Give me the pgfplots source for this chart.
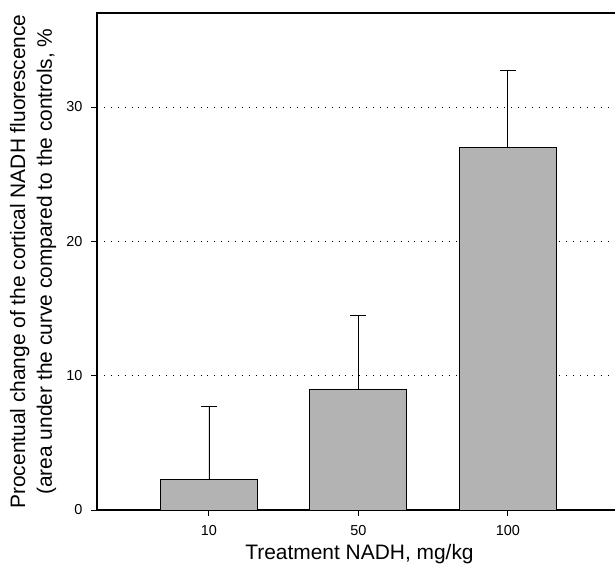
\documentclass[border=0pt]{standalone}
\usepackage{fontspec}
\setmainfont{Liberation Sans}
\usepackage{pgfplots}
\pgfplotsset{compat=1.18}
\definecolor{barcol}{RGB}{179,179,179}
\begin{document}
\begin{tikzpicture}
\path[use as bounding box] (0,0) rectangle (615bp,567bp);
\begin{axis}[
  at={(97bp,57bp)}, anchor=south west,
  scale only axis, width=520bp, height=497bp,
  xmin=0.251, xmax=3.73, ymin=0, ymax=37,
  xtick={1,2,3}, xticklabels={10,50,100},
  ytick={0,10,20,30},
  tick align=outside, xtick pos=bottom, ytick pos=left,
  major tick length=6bp,
  tick style={black, line width=1bp},
  axis line style={line width=1.6bp},
  ymajorgrids,
  grid style={black, line width=0.9bp, dash pattern=on 0.9bp off 6bp},
  tick label style={font=\fontsize{14.5}{16}\selectfont},
  xticklabel style={yshift=-6bp},
  yticklabel style={xshift=-5bp},
  /pgf/number format/assume math mode=true,
  xlabel={Treatment NADH, mg/kg},
  xlabel style={at={(axis description cs:0.5048,-0.1006)}, anchor=base, inner sep=0pt, font=\fontsize{21}{25}\selectfont},
  ylabel={Procentual change of the cortical NADH fluorescence\\(area under the curve compared to the controls, \%},
  ylabel style={at={(axis description cs:-0.1679,0.5)}, anchor=north, inner sep=0pt, align=center, font=\fontsize{21}{27}\selectfont},
]
\addplot[ybar, bar width=97bp, bar shift=0pt, fill=barcol, draw=black, line width=0.9bp,
  error bars/.cd, y dir=plus, y explicit, error mark=|,
  error bar style={black, line width=0.9bp},
  error mark options={black, line width=0.9bp, mark size=8bp}]
  coordinates {(1,2.3) +- (0,5.4) (2,9.0) +- (0,5.5) (3,27.0) +- (0,5.7)};
\end{axis}
\end{tikzpicture}
\end{document}
